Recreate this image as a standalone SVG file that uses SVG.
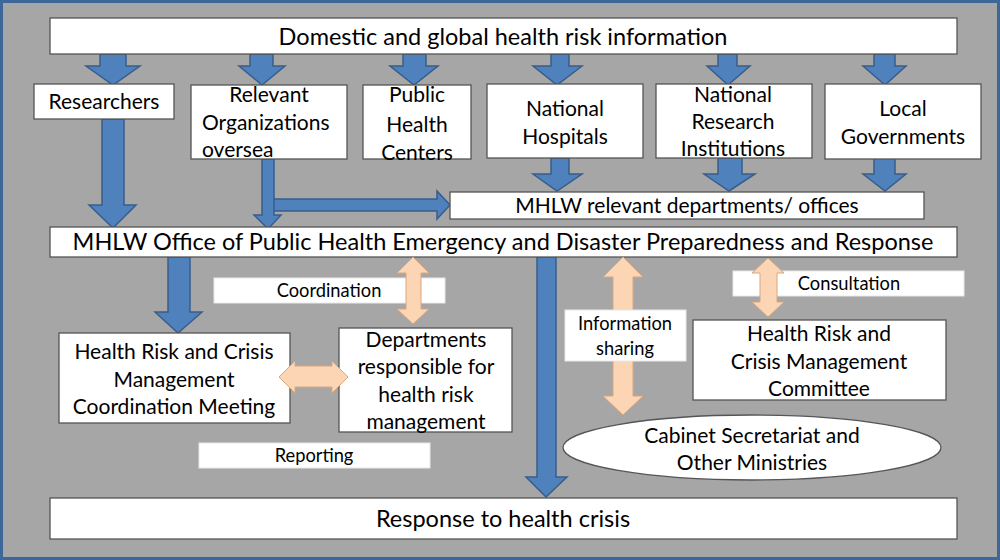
<svg xmlns="http://www.w3.org/2000/svg" width="1000" height="560" viewBox="0 0 1000 560">
<style>
.bg{fill:#a6a6a6;stroke:#3d6699;stroke-width:3}
.box{fill:#fff;stroke:#555;stroke-width:1.3}
.lbl{fill:#fff;stroke:#e8e8e8;stroke-width:1}
.ba{fill:#4f81bd;stroke:#385d8a;stroke-width:1.5;stroke-linejoin:miter}
.pa{fill:#fcd5b5;stroke:#d9a77e;stroke-width:1}
text{font-family:Lato,"Liberation Sans",sans-serif;fill:#000;text-anchor:middle}
.t24{font-size:23.5px}
.t22{font-size:21px}
.t20{font-size:21px}
.t16{font-size:18.3px}
</style>
<rect class="bg" x="1.5" y="1.5" width="997" height="557"/>

<g id="connectors">
  <polygon class="ba" points="100,54 126,54 126,66 140,66 113,85 86,66 100,66"/>
  <polygon class="ba" points="250,54 273,54 273,66 285,66 262,85 239,66 250,66"/>
  <polygon class="ba" points="403,54 426,54 426,66 438,66 414,85 390,66 403,66"/>
  <polygon class="ba" points="551,54 569,54 569,66 582,66 557,85 533,66 551,66"/>
  <polygon class="ba" points="718,54 737,54 737,66 750,66 728,85 707,66 718,66"/>
  <polygon class="ba" points="874,54 895,54 895,66 906,66 885,85 863,66 874,66"/>
  <polygon class="ba" points="551,158 569,158 569,174 582,174 557,191 533,174 551,174"/>
  <polygon class="ba" points="718,158 742,158 742,174 755,174 729,191 704,174 718,174"/>
  <polygon class="ba" points="874,158 895,158 895,174 906,174 885,191 863,174 874,174"/>
  <polygon class="ba" points="102,119 124,119 124,205 136,205 113,228 89,205 102,205"/>
  <polygon class="ba" points="268,199 437,199 437,191 450,205 437,219 437,211 268,211"/>
  <polygon class="ba" points="262,159 274,159 274,215 281,215 268,229 254,215 262,215"/>
  <polygon class="ba" points="168,257 190,257 190,312 202,312 178,333 155,312 168,312"/>
  <polygon class="ba" points="537,257 556,257 556,477 567,477 546,497 526,477 537,477"/>
</g>

<g id="top-info">
  <rect class="box" x="50" y="18" width="907" height="36"/>
  <text class="t24" x="503" y="45">Domestic and global health risk information</text>
</g>
<g id="researchers">
  <rect class="box" x="34" y="84" width="140" height="35"/>
  <text class="t22" x="104" y="109">Researchers</text>
</g>
<g id="relevant-orgs">
  <rect class="box" x="191" y="85" width="156" height="74"/>
  <text class="t22" x="269" y="102">Relevant</text>
  <text class="t22" x="202" y="130" style="text-anchor:start">Organizations</text>
  <text class="t22" x="202" y="157" style="text-anchor:start">oversea</text>
</g>
<g id="public-health-centers">
  <rect class="box" x="363" y="85" width="108" height="74"/>
  <text class="t22" x="417" y="102">Public</text>
  <text class="t22" x="417" y="132">Health</text>
  <text class="t22" x="417" y="160">Centers</text>
</g>
<g id="national-hospitals">
  <rect class="box" x="487" y="84" width="156" height="74"/>
  <text class="t22" x="565" y="116">National</text>
  <text class="t22" x="565" y="144">Hospitals</text>
</g>
<g id="national-research">
  <rect class="box" x="656" y="84" width="156" height="74"/>
  <text class="t22" x="733" y="102">National</text>
  <text class="t22" x="733" y="129">Research</text>
  <text class="t22" x="733" y="156">Institutions</text>
</g>
<g id="local-governments">
  <rect class="box" x="825" y="84" width="156" height="75"/>
  <text class="t22" x="903" y="116">Local</text>
  <text class="t22" x="903" y="144">Governments</text>
</g>
<g id="mhlw-departments">
  <rect class="box" x="450" y="192" width="474" height="27"/>
  <text class="t20" x="687" y="213">MHLW relevant departments/ offices</text>
</g>
<g id="mhlw-office">
  <rect class="box" x="50" y="227" width="907" height="30"/>
  <text class="t24" x="503" y="250">MHLW Office of Public Health Emergency and Disaster Preparedness and Response</text>
</g>
<g id="coordination-label">
  <rect class="lbl" x="214" y="278" width="231" height="25"/>
  <text class="t16" x="329" y="297">Coordination</text>
</g>
<g id="coordination-meeting">
  <rect class="box" x="59" y="333" width="231" height="90"/>
  <text class="t22" x="174" y="359">Health Risk and Crisis</text>
  <text class="t22" x="174" y="387">Management</text>
  <text class="t22" x="174" y="414">Coordination Meeting</text>
</g>
<g id="departments">
  <rect class="box" x="339" y="328" width="173" height="104"/>
  <text class="t22" x="426" y="347">Departments</text>
  <text class="t22" x="426" y="374">responsible for</text>
  <text class="t22" x="426" y="402">health risk</text>
  <text class="t22" x="426" y="429">management</text>
</g>
<g id="reporting-label">
  <rect class="lbl" x="199" y="443" width="231" height="25"/>
  <text class="t16" x="314" y="462">Reporting</text>
</g>
<g id="consultation-label">
  <rect class="lbl" x="733" y="271" width="231" height="25"/>
  <text class="t16" x="849" y="290">Consultation</text>
</g>
<g id="committee">
  <rect class="box" x="693" y="320" width="253" height="80"/>
  <text class="t22" x="819" y="341">Health Risk and</text>
  <text class="t22" x="819" y="369">Crisis Management</text>
  <text class="t22" x="819" y="396">Committee</text>
</g>
<g id="cabinet">
  <ellipse class="box" cx="752" cy="447.5" rx="189" ry="32.5"/>
  <text class="t22" x="752" y="443">Cabinet Secretariat and</text>
  <text class="t22" x="752" y="470">Other Ministries</text>
</g>
<g id="response">
  <rect class="box" x="50" y="498" width="907" height="41"/>
  <text class="t24" x="503" y="527">Response to health crisis</text>
</g>

<g id="exchange-connectors">
  <polygon class="pa" points="413,257 429,273 421,273 421,309 429,309 413,324 397,309 406,309 406,273 397,273"/>
  <polygon class="pa" points="279,377 295,361 295,366 332,366 332,361 348,377 332,393 332,387 295,387 295,393"/>
  <polygon class="pa" points="623,257 643,277 633,277 633,396 643,396 623,415 603,396 613,396 613,277 603,277"/>
  <polygon class="pa" points="768,258 784,273 777,273 777,302 784,302 768,317 752,302 760,302 760,273 752,273"/>
</g>
<g id="info-sharing-label">
  <rect class="lbl" x="565" y="310" width="121" height="51"/>
  <text class="t16" x="625" y="330">Information</text>
  <text class="t16" x="625" y="355">sharing</text>
</g>
</svg>
